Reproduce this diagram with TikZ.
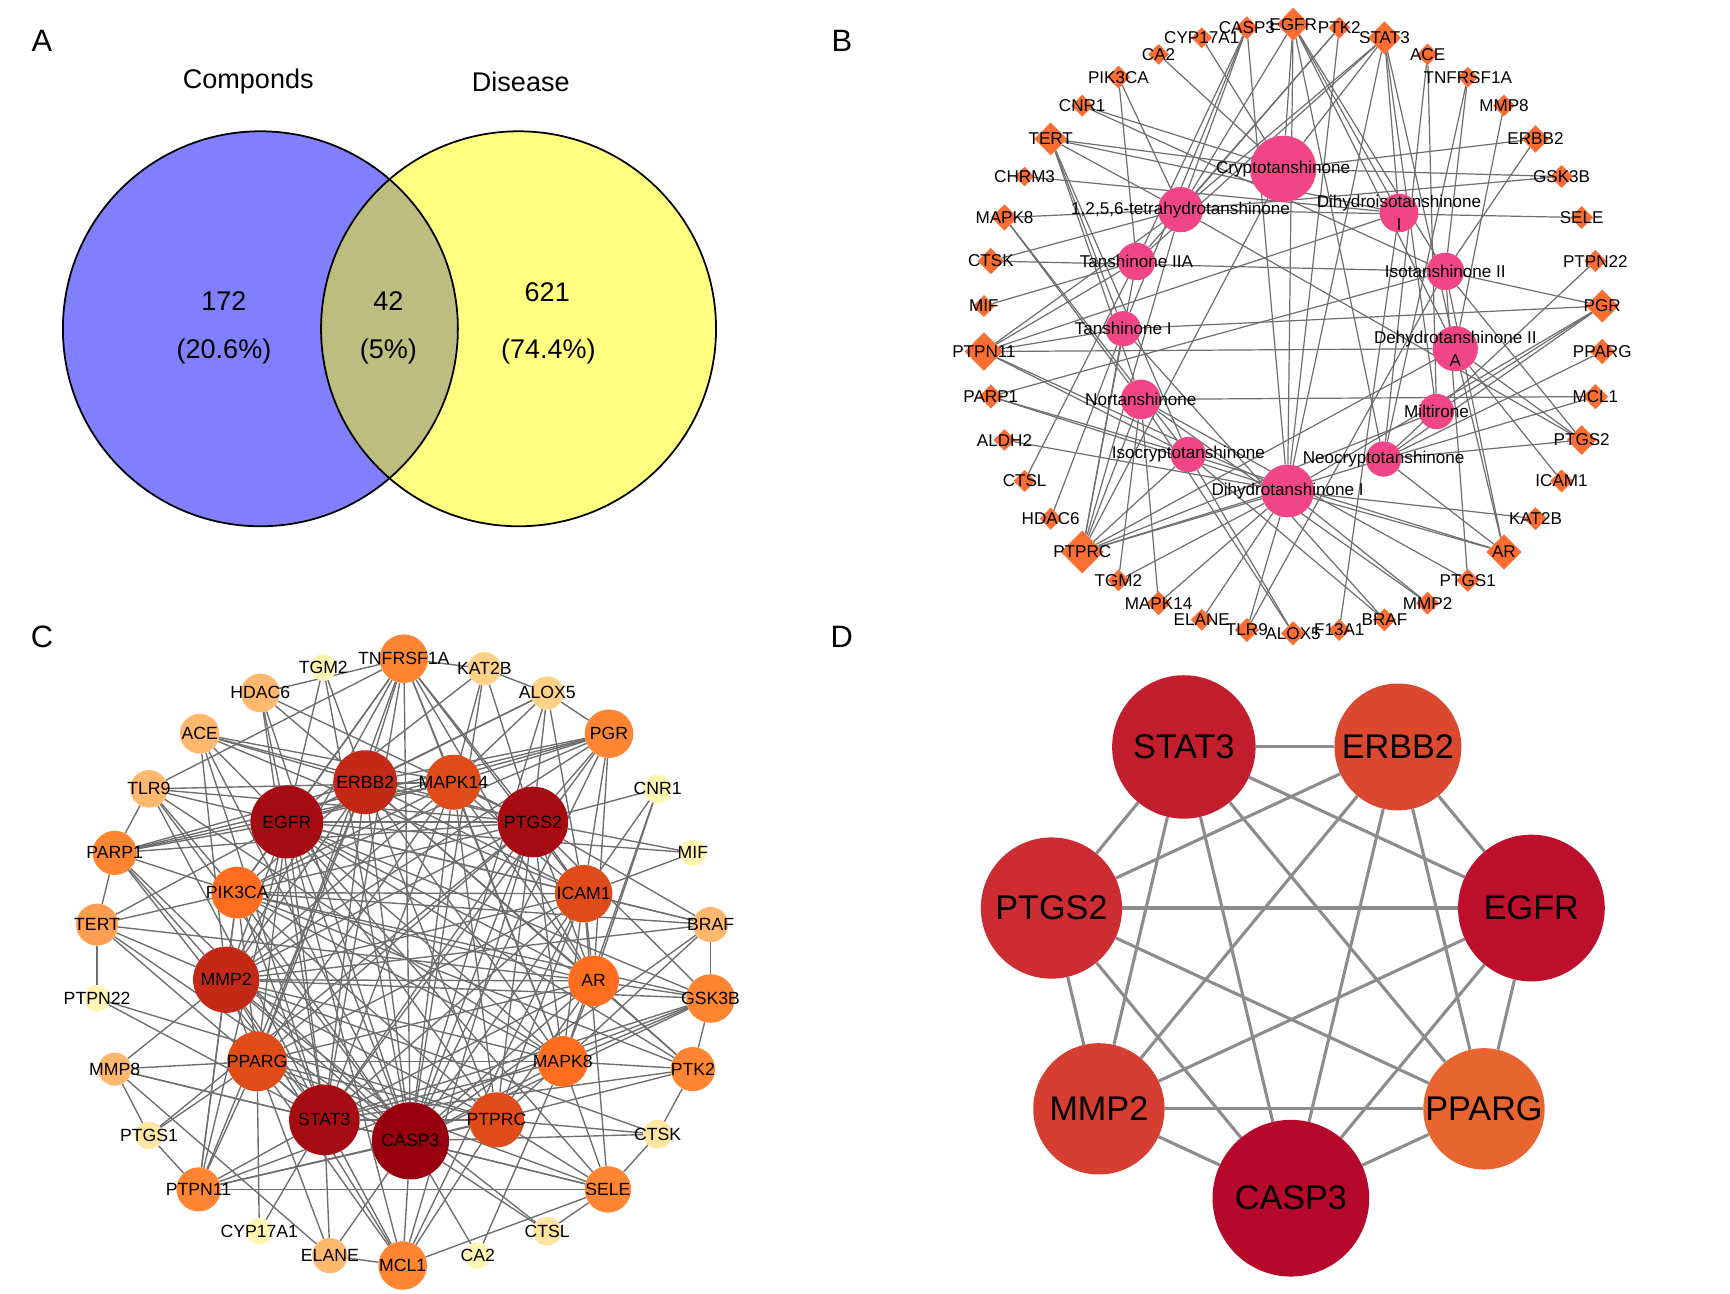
\documentclass[tikz,border=0pt]{standalone}
\usepackage{fontspec}
\setmainfont{Liberation Sans}
\usetikzlibrary{shapes.geometric,backgrounds}

\definecolor{vennblue}{HTML}{8080FF}
\definecolor{vennyellow}{HTML}{FFFF80}
\definecolor{vennlens}{HTML}{BDBD80}
\definecolor{herbpink}{HTML}{F04687}
\definecolor{targetorange}{HTML}{FA6E32}
\definecolor{edgegray}{HTML}{6E6E6E}
\definecolor{deg1}{HTML}{FFF6B4}
\definecolor{deg2}{HTML}{FFE6A0}
\definecolor{deg3}{HTML}{FFD288}
\definecolor{deg4}{HTML}{FFB86E}
\definecolor{deg45}{HTML}{FF9E50}
\definecolor{deg5}{HTML}{FF8532}
\definecolor{deg6}{HTML}{FF6E1E}
\definecolor{deg7}{HTML}{DF4C19}
\definecolor{deg8}{HTML}{C42816}
\definecolor{deg9}{HTML}{A80C13}
\definecolor{deg10}{HTML}{98000F}
\definecolor{hubstat}{HTML}{C31E2D}
\definecolor{huberbb}{HTML}{DA4830}
\definecolor{hubptgs}{HTML}{CD2D32}
\definecolor{hubegfr}{HTML}{BE0F2D}
\definecolor{hubmmp}{HTML}{D53E30}
\definecolor{hubpparg}{HTML}{E86430}
\definecolor{hubcasp}{HTML}{B6082A}

\begin{document}
\begin{tikzpicture}[
  x=1pt, y=-1pt,
  panel/.style={font=\fontsize{28}{30}\selectfont},
  vtext/.style={font=\fontsize{24.5}{28}\selectfont},
  herb/.style={circle, fill=herbpink, draw=none, inner sep=0pt},
  tgt/.style={diamond, aspect=1, fill=targetorange, draw=none, inner sep=0pt},
  blab/.style={font=\fontsize{15.5}{21}\selectfont, align=center, inner sep=0pt},
  ppi/.style={circle, draw=none, inner sep=0pt},
  clab/.style={font=\fontsize{16}{18}\selectfont, inner sep=0pt},
  hub/.style={circle, draw=none, inner sep=0pt},
  dlab/.style={font=\fontsize{31}{33}\selectfont, inner sep=0pt},
  link/.style={draw=edgegray, line width=1.1pt},
  ppilink/.style={draw=edgegray, line width=1.25pt},
  hublink/.style={draw=black!45, line width=2.8pt}
]
\useasboundingbox (0,0) rectangle (1568,1172);

% panel letters
\node[panel] (pA) at (38,37) {A};
\node[panel] (pB) at (763,37) {B};
\node[panel] (pC) at (38,577) {C};
\node[panel] (pD) at (763,577) {D};

% A: venn
\fill[vennblue] (236,298) circle[radius=179];
\fill[vennyellow] (470,298) circle[radius=179];
\begin{scope}
  \clip (236,298) circle[radius=179];
  \fill[vennlens] (470,298) circle[radius=179];
\end{scope}
\draw[line width=1.6pt] (236,298) circle[radius=179] (470,298) circle[radius=179];
\node[vtext] (vcomp) at (225,74) {Componds};
\node[vtext] (vdis) at (472,74) {Disease};
\node[vtext] (vleft) at (203,273) {172};
\node[vtext] (vleftp) at (203,319) {(20.6\%)};
\node[vtext] (vmid) at (352,273) {42};
\node[vtext] (vmidp) at (352,319) {(5\%)};
\node[vtext] (vright) at (496,265) {621};
\node[vtext] (vrightp) at (497,319) {(74.4\%)};

% B: compound-target network
\node[herb, minimum size=60pt, label={[blab]center:Cryptotanshinone}] (h1) at (1163,153) {};
\node[herb, minimum size=41pt, label={[blab]center:1,2,5,6-tetrahydrotanshinone}] (h2) at (1070,190) {};
\node[herb, minimum size=35pt, label={[blab]center:Dihydroisotanshinone\\I}] (h3) at (1268,193) {};
\node[herb, minimum size=34pt, label={[blab]center:Tanshinone IIA}] (h4) at (1030,237) {};
\node[herb, minimum size=34pt, label={[blab]center:Isotanshinone II}] (h5) at (1310,246) {};
\node[herb, minimum size=32pt, label={[blab]center:Tanshinone I}] (h6) at (1018,298) {};
\node[herb, minimum size=41pt, label={[blab]center:Dehydrotanshinone II\\A}] (h7) at (1319,316) {};
\node[herb, minimum size=36pt, label={[blab]center:Nortanshinone}] (h8) at (1034,362) {};
\node[herb, minimum size=32pt, label={[blab]center:Miltirone}] (h9) at (1302,373) {};
\node[herb, minimum size=32pt, label={[blab]center:Isocryptotanshinone}] (h10) at (1077,412) {};
\node[herb, minimum size=32pt, label={[blab]center:Neocryptotanshinone}] (h11) at (1254,416) {};
\node[herb, minimum size=48pt, label={[blab]center:Dihydrotanshinone I}] (h12) at (1167,445) {};

\foreach \gene/\sz [count=\k from 0] in {PGR/30, PTPN22/20, SELE/21, GSK3B/21, ERBB2/25,
    MMP8/20, TNFRSF1A/19, ACE/20, STAT3/30, PTK2/20, EGFR/30, CASP3/21, CYP17A1/19,
    CA2/19, PIK3CA/21, CNR1/20, TERT/30, CHRM3/18, MAPK8/24, CTSK/24, MIF/20, PTPN11/35,
    PARP1/22, ALDH2/20, CTSL/20, HDAC6/20, PTPRC/39, TGM2/20, MAPK14/22, ELANE/20,
    TLR9/22, ALOX5/22, F13A1/20, BRAF/21, MMP2/21, PTGS1/21, AR/32, KAT2B/21, ICAM1/21,
    PTGS2/27, MCL1/23, PPARG/23} {
  \pgfmathsetmacro\ang{4.2857+8.5714*\k}
  \node[tgt, minimum size=\sz pt, label={[blab]center:\gene}] (b\gene)
    at ({1172+281*cos(\ang)},{298-276*sin(\ang)}) {};
}

\begin{scope}[on background layer]
\foreach \t/\cs in {CASP3/{2,4,6,12}, EGFR/{1,2,3,5,7,11,12}, PTK2/{2,4,12}, STAT3/{1,2,3,4,7,9,12},
    ACE/{9,11}, TNFRSF1A/{5,11}, MMP8/{7}, ERBB2/{1,5}, GSK3B/{1,2}, SELE/{2}, PTPN22/{11},
    PGR/{5,6,9,11,12}, PPARG/{11}, MCL1/{8,11}, PTGS2/{2,5,7,11}, ICAM1/{7}, KAT2B/{12},
    AR/{5,7,10,11,12}, PTGS1/{5,8}, MMP2/{8,12}, BRAF/{10,6}, F13A1/{3}, ALOX5/{8,10},
    TLR9/{5,12}, ELANE/{12}, MAPK14/{8,12}, TGM2/{8,12}, PTPRC/{1,2,4,6,7,8,9,10,11,12},
    HDAC6/{6}, CTSL/{4}, ALDH2/{12}, PARP1/{5,10,12}, PTPN11/{2,3,4,6,7,10,12}, MIF/{4},
    CTSK/{2,5}, MAPK8/{2,8,10}, CHRM3/{3}, TERT/{1,2,3,6,8,10}, CNR1/{1,5}, PIK3CA/{2,4},
    CA2/{1}, CYP17A1/{1}}
  \foreach \c in \cs
    \draw[link] (b\t) -- (h\c);
\end{scope}

% C: PPI network
\foreach \n/\x/\y/\sz/\col in {TGM2/293/605/24/deg1, TNFRSF1A/366/597/44/deg5,
    HDAC6/236/628/35/deg4, ACE/181/665/36/deg4, TLR9/135/715/34/deg4, PARP1/104/773/40/deg5,
    TERT/88/838/38/deg45, EGFR/260/745/66/deg9, ERBB2/331/709/58/deg8, PIK3CA/215/809/47/deg6,
    KAT2B/439/606/30/deg3, ALOX5/496/628/30/deg3, PGR/552/665/44/deg5, MAPK14/411/709/50/deg7,
    PTGS2/483/745/64/deg9, CNR1/596/715/26/deg1, MIF/628/773/24/deg1, ICAM1/529/810/52/deg7,
    BRAF/644/838/32/deg4, PTPN22/88/905/24/deg1, MMP2/205/888/60/deg8, MMP8/104/969/30/deg4,
    PPARG/233/962/54/deg7, STAT3/294/1015/64/deg9, CASP3/372/1034/70/deg10,
    PTGS1/135/1029/25/deg2, PTPN11/180/1078/40/deg5, CYP17A1/235/1116/24/deg1,
    ELANE/299/1138/32/deg4, MCL1/365/1147/44/deg5, AR/538/889/46/deg6, GSK3B/644/905/44/deg5,
    MAPK8/510/962/46/deg6, PTK2/628/969/40/deg5, PTPRC/450/1015/50/deg7, CTSK/596/1028/26/deg2,
    SELE/551/1078/42/deg5, CTSL/496/1116/26/deg2, CA2/433/1138/24/deg1}
  \node[ppi, fill=\col, minimum size=\sz pt, label={[clab]center:\n}] (c\n) at (\x,\y) {};

\begin{scope}[on background layer]
\foreach \a [count=\i] in {EGFR,ERBB2,MAPK14,PTGS2,ICAM1,AR,MAPK8,PTPRC,CASP3,STAT3,PPARG,MMP2,PIK3CA}
  \foreach \b [count=\j] in {EGFR,ERBB2,MAPK14,PTGS2,ICAM1,AR,MAPK8,PTPRC,CASP3,STAT3,PPARG,MMP2,PIK3CA}
    {\ifnum\j>\i \draw[ppilink] (c\a) -- (c\b);\fi}
\foreach \a/\bs in {
    TNFRSF1A/{EGFR,ERBB2,MAPK14,PTGS2,ICAM1,AR,MAPK8,CASP3,STAT3,PPARG,MMP2,PIK3CA,KAT2B,HDAC6,TLR9},
    KAT2B/{ALOX5,MAPK14,PTGS2,EGFR,CASP3},
    ALOX5/{PGR,MAPK14,PTGS2,ICAM1,EGFR,ERBB2,CASP3},
    PGR/{MAPK14,ERBB2,EGFR,PTGS2,ICAM1,AR,CASP3,STAT3,MMP2,PIK3CA,PARP1},
    CNR1/{PTGS2,ICAM1,AR,MAPK8},
    MIF/{PTGS2,ICAM1,EGFR},
    BRAF/{ICAM1,PTGS2,GSK3B,MAPK8,CASP3,MMP2,PIK3CA,EGFR},
    GSK3B/{PTK2,AR,MAPK8,CASP3,STAT3,PIK3CA,EGFR,MMP2,PTGS2,PTPN11},
    PTK2/{CTSK,MAPK8,AR,EGFR,ERBB2,CASP3,STAT3,PIK3CA},
    CTSK/{SELE,CASP3,PTPRC,MMP2},
    SELE/{CTSL,MAPK8,PTPRC,ICAM1,CASP3,STAT3,EGFR,PPARG,MCL1,PTPN11},
    CTSL/{CASP3,MMP2},
    CA2/{CASP3,MAPK8},
    MCL1/{CASP3,STAT3,PTPRC,ELANE,EGFR,PTGS2,PPARG,MMP2,ICAM1},
    ELANE/{STAT3,CASP3,PPARG,MMP8},
    CYP17A1/{STAT3,PPARG},
    PTPN11/{STAT3,CASP3,PPARG,MMP2,EGFR,PIK3CA,ERBB2,PTGS1,PTPRC},
    PTGS1/{PTGS2,PPARG,MMP8},
    MMP8/{MMP2,PPARG,STAT3,CASP3},
    PTPN22/{TERT,STAT3,PTPRC},
    TERT/{PARP1,EGFR,CASP3,STAT3,PIK3CA,MMP2,AR},
    PARP1/{TLR9,EGFR,PIK3CA,CASP3,STAT3,MAPK14,ERBB2,PTGS2,MMP2},
    TLR9/{EGFR,PIK3CA,MAPK14,CASP3,STAT3,MAPK8,PTGS2},
    ACE/{EGFR,MMP2,ERBB2,PTGS2,ICAM1,STAT3,CASP3,MAPK14},
    HDAC6/{EGFR,ERBB2,CASP3,STAT3,PTGS2},
    TGM2/{EGFR,ERBB2,CASP3}}
  \foreach \b in \bs
    \draw[ppilink] (c\a) -- (c\b);
\end{scope}

% D: hub genes
\node[hub, fill=hubstat, minimum size=130pt, label={[dlab]center:STAT3}] (dSTAT3) at (1073,677) {};
\node[hub, fill=huberbb, minimum size=115pt, label={[dlab]center:ERBB2}] (dERBB2) at (1267,677) {};
\node[hub, fill=hubptgs, minimum size=128pt, label={[dlab]center:PTGS2}] (dPTGS2) at (953,823) {};
\node[hub, fill=hubegfr, minimum size=133pt, label={[dlab]center:EGFR}] (dEGFR) at (1388,823) {};
\node[hub, fill=hubmmp, minimum size=119pt, label={[dlab]center:MMP2}] (dMMP2) at (996,1005) {};
\node[hub, fill=hubpparg, minimum size=110pt, label={[dlab]center:PPARG}] (dPPARG) at (1345,1005) {};
\node[hub, fill=hubcasp, minimum size=142pt, label={[dlab]center:CASP3}] (dCASP3) at (1170,1086) {};

\begin{scope}[on background layer]
\foreach \a [count=\i] in {STAT3,ERBB2,EGFR,PPARG,CASP3,MMP2,PTGS2}
  \foreach \b [count=\j] in {STAT3,ERBB2,EGFR,PPARG,CASP3,MMP2,PTGS2}
    {\ifnum\j>\i \draw[hublink] (d\a) -- (d\b);\fi}
\end{scope}
\end{tikzpicture}
\end{document}
